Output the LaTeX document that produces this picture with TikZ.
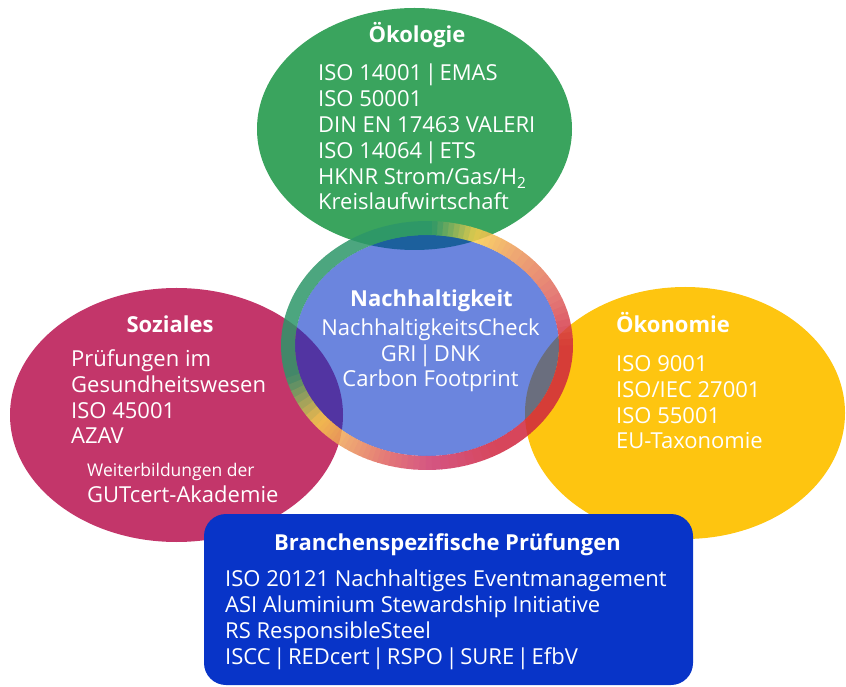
\documentclass[tikz,border=0pt]{standalone}
\usepackage{fontspec}
\setmainfont{Open Sans}

\definecolor{oekogreen}{RGB}{58,164,94}
\definecolor{sozmagenta}{RGB}{195,54,106}
\definecolor{oekoyellow}{RGB}{254,197,16}
\definecolor{gutblue}{RGB}{8,52,200}
\definecolor{ringgreen}{RGB}{45,150,105}
\definecolor{ringyellow}{RGB}{250,208,75}
\definecolor{ringorange}{RGB}{236,155,90}
\definecolor{ringsalmon}{RGB}{224,100,95}
\definecolor{ringred}{RGB}{208,38,62}
\definecolor{ringpink}{RGB}{205,55,108}

\newcommand{\normsep}{\hspace{0.12em}|\hspace{0.12em}}

\tikzset{
  head/.style={font=\fontsize{22}{26}\selectfont\bfseries, text=white, inner sep=0pt},
  body/.style={font=\fontsize{22}{25.8}\selectfont, text=white, align=left, inner sep=0pt},
  ringseg/.style={line width=14pt},
}

\begin{document}
\begin{tikzpicture}[x=1pt,y=1pt]
  \useasboundingbox (0,0) rectangle (846,686);
  % the three pillars
  \fill[oekogreen] (414.5,557) ellipse [x radius=157.5, y radius=121];
  \fill[sozmagenta] (176.5,271) ellipse [x radius=166.5, y radius=127];
  \fill[oekoyellow] (685,273) ellipse [x radius=160, y radius=126];
  % centre with coloured ring
  \coordinate (mid) at (427,340.5);
  \fill[gutblue, fill opacity=0.6] (mid) ellipse [x radius=132, y radius=110.5];
  \begin{scope}[transparency group, opacity=0.85]
    \foreach \a/\b/\ca/\cb in {-180/-165/ringgreen/ringgreen,
      -165/-140/ringgreen/ringyellow, -140/-125/ringyellow/ringorange,
      -125/-108/ringorange/ringsalmon, -108/-88/ringsalmon/ringpink,
      -88/-60/ringpink/ringred, -60/0/ringred/ringred,
      0/25/ringred/ringsalmon, 25/52/ringsalmon/ringorange,
      52/70/ringorange/ringyellow, 70/88/ringyellow/ringgreen,
      88/180/ringgreen/ringgreen}{
      \foreach \i in {1,...,8}{
        \pgfmathsetmacro\aone{\a+(\b-\a)*(\i-1)/8}
        \pgfmathsetmacro\atwo{\a+(\b-\a)*\i/8+0.4}
        \pgfmathtruncatemacro\pmix{100-100*(\i-0.5)/8}
        \draw[ringseg, draw=\ca!\pmix!\cb] (mid) ++(\aone:139 and 117.5)
          arc[start angle=\aone, end angle=\atwo, x radius=139, y radius=117.5];
      }
    }
  \end{scope}

  % lists are placed by the baseline of their last line
  \node[head, anchor=base] (oeko-head) at (417,643) {Ökologie};
  \node[body, anchor=base west] (oeko-list) at (318,476)
    {ISO 14001\normsep EMAS\\ISO 50001\\DIN EN 17463 VALERI\\ISO 14064\normsep ETS\\
     HKNR Strom/Gas/H\textsubscript{2}\\Kreislaufwirtschaft};

  \node[head, anchor=base] (nach-head) at (431.5,379) {Nachhaltigkeit};
  \node[body, align=center, anchor=base] (nach-list) at (430.5,299)
    {NachhaltigkeitsCheck\\GRI\normsep DNK\\Carbon Footprint};

  \node[head, anchor=base] (soz-head) at (170,353) {Soziales};
  \node[body, anchor=base west] (soz-list) at (71,242)
    {Prüfungen im\\Gesundheitswesen\\ISO 45001\\AZAV};
  \node[body, font=\fontsize{17.5}{20}\selectfont, anchor=base west] (soz-akad) at (87,209)
    {Weiterbildungen der};
  \node[body, anchor=base west] (soz-gut) at (87,184) {GUTcert-Akademie};

  \node[head, anchor=base west] (oekon-head) at (616,353) {Ökonomie};
  \node[body, anchor=base west] (oekon-list) at (616,237)
    {ISO 9001\\ISO/IEC 27001\\ISO 55001\\EU-Taxonomie};

  % branch box
  \fill[gutblue, rounded corners=22pt] (204,1) rectangle (693,172);
  \node[head, anchor=base] (branch-head) at (447.5,136) {Branchenspezifische Prüfungen};
  \node[body, anchor=base west] (branch-list) at (225,22)
    {ISO 20121 Nachhaltiges Eventmanagement\\ASI Aluminium Stewardship Initiative\\
     RS ResponsibleSteel\\ISCC\normsep REDcert\normsep RSPO\normsep SURE\normsep EfbV};
\end{tikzpicture}
\end{document}
